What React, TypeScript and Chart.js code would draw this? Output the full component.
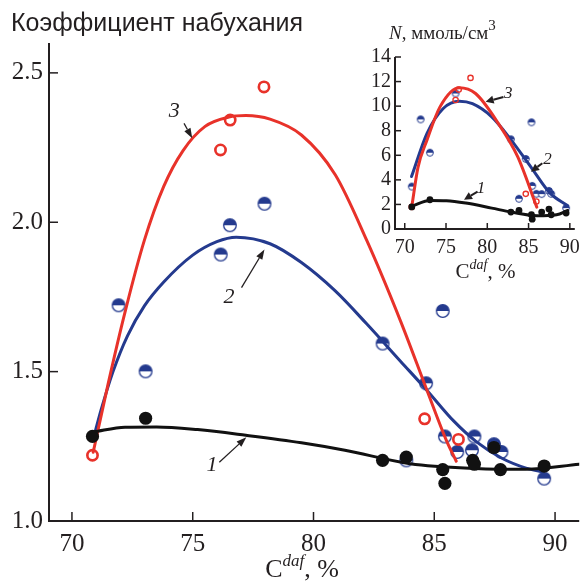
import React, { useEffect, useRef } from 'react';
import { Chart, registerables } from 'chart.js';

Chart.register(...registerables);

// ---------- Main chart data ----------
const mainXTicks = [70, 75, 80, 85, 90];
const mainYTicks = [1.0, 1.5, 2.0, 2.5];

// Series 1 (black filled)
const s1X = [70.85, 73.05, 82.86, 83.84, 85.35, 85.44, 86.59, 86.66, 87.47, 87.74, 89.55];
const s1Y = [1.283, 1.344, 1.203, 1.214, 1.172, 1.126, 1.203, 1.19, 1.246, 1.172, 1.184];
// Series 2 (half-filled blue)
const s2X = [71.93, 73.05, 76.16, 76.54, 77.97, 82.86, 83.84, 84.66, 85.35, 85.44, 85.95, 86.56, 86.66, 87.47, 87.78, 89.55];
const s2Y = [1.722, 1.501, 1.892, 1.99, 2.062, 1.594, 1.203, 1.461, 1.703, 1.283, 1.231, 1.237, 1.283, 1.257, 1.231, 1.142];
// Series 3 (red open)
const s3X = [70.85, 76.15, 76.55, 77.95, 84.6, 86.0];
const s3Y = [1.22, 2.242, 2.342, 2.453, 1.342, 1.273];

// Fitted curves
const c1X = [70.9, 72.2, 73.5, 75.2, 77.2, 79.5, 81.3, 84.0, 86.7, 88.8, 91.0];
const c1Y = [1.298, 1.314, 1.315, 1.306, 1.287, 1.262, 1.237, 1.192, 1.176, 1.173, 1.19];
const c2X = [70.9, 71.2, 71.7, 72.3, 73.0, 73.8, 75.0, 76.0, 76.8, 78.2, 79.5, 80.9, 82.2, 83.6, 84.7, 85.8, 86.75, 87.8, 88.8, 89.5];
const c2Y = [1.28, 1.37, 1.5, 1.62, 1.72, 1.8, 1.89, 1.935, 1.95, 1.928, 1.865, 1.77, 1.66, 1.535, 1.437, 1.335, 1.265, 1.21, 1.177, 1.164];
const c3X = [70.88, 71.5, 72.2, 73.0, 73.8, 74.6, 75.5, 76.5, 77.2, 78.2, 79.5, 80.9, 82.2, 83.6, 84.7, 85.5, 85.91];
const c3Y = [1.23, 1.46, 1.7, 1.94, 2.12, 2.24, 2.32, 2.352, 2.357, 2.345, 2.292, 2.159, 1.94, 1.67, 1.437, 1.27, 1.2];

// ---------- Inset data ----------
const inXTicks = [70, 75, 80, 85, 90];
const inYTicks = [0, 2, 4, 6, 8, 10, 12, 14];

const i1X = [70.85, 73.05, 82.86, 83.84, 85.35, 85.44, 86.59, 87.47, 87.74, 89.55];
const i1Y = [1.8, 2.38, 1.38, 1.51, 1.16, 0.8, 1.38, 1.62, 1.16, 1.3];
const i2X = [70.85, 71.93, 73.05, 76.16, 82.86, 83.84, 84.66, 85.35, 85.44, 85.95, 86.59, 87.47, 87.74, 89.55];
const i2Y = [3.45, 8.92, 6.21, 11.03, 7.3, 2.46, 5.7, 8.68, 3.51, 2.86, 2.84, 3.1, 2.86, 1.7];
const i3X = [70.85, 76.16, 76.54, 77.97, 84.66, 85.95];
const i3Y = [1.8, 10.5, 11.35, 12.3, 2.86, 2.24];

const ic1X = [70.82, 73.09, 75.05, 77.4, 80.54, 82.9, 86.03, 88.39, 89.75];
const ic1Y = [1.86, 2.32, 2.3, 2.11, 1.7, 1.38, 1.08, 1.16, 1.51];
const ic2X = [70.82, 72.7, 74.66, 76.62, 78.2, 80.54, 82.9, 85.25, 87.6, 89.75];
const ic2Y = [4.27, 7.79, 9.81, 10.4, 10.2, 9.13, 7.24, 5.08, 2.92, 1.89];
const ic3X = [70.85, 71.6, 72.7, 74.27, 76.6, 78.58, 81.33, 83.68, 86.0];
const ic3Y = [1.8, 5.0, 7.24, 9.94, 11.5, 11.03, 8.6, 5.89, 1.78];

const INK = '#231f20';
const RED = '#e8322a';
const BLUE = '#243a8e';
const BLACK = '#111111';
const SERIF = '"Liberation Serif"';
const SANS = '"Liberation Sans"';

const pts = (xs: number[], ys: number[]) => xs.map((x, i) => ({ x, y: ys[i] }));

function halfMarker(r: number, color: string, lw: number) {
  let size = Math.ceil(2 * r + lw + 2);
  if (size % 2) size += 1;
  const c = document.createElement('canvas');
  c.width = size;
  c.height = size;
  const g = c.getContext('2d')!;
  const cx = size / 2, cy = size / 2;
  g.beginPath(); g.arc(cx, cy, r, 0, Math.PI * 2); g.fillStyle = '#fff'; g.fill();
  g.beginPath(); g.arc(cx, cy, r, Math.PI, 0); g.closePath(); g.fillStyle = color; g.fill();
  g.beginPath(); g.arc(cx, cy, r, 0, Math.PI * 2); g.strokeStyle = color; g.lineWidth = lw; g.stroke();
  return c;
}

type Run = { t: string; font: string; dy?: number };
function drawRuns(ctx: CanvasRenderingContext2D, runs: Run[], x: number, y: number, center: boolean) {
  ctx.save();
  ctx.fillStyle = INK;
  ctx.textBaseline = 'alphabetic';
  ctx.textAlign = 'left';
  let w = 0;
  for (const r of runs) { ctx.font = r.font; w += ctx.measureText(r.t).width; }
  let cx = center ? x - w / 2 : x;
  for (const r of runs) {
    ctx.font = r.font;
    ctx.fillText(r.t, cx, y + (r.dy || 0));
    cx += ctx.measureText(r.t).width;
  }
  ctx.restore();
}

function drawArrow(ctx: CanvasRenderingContext2D, x1: number, y1: number, x2: number, y2: number, lw: number, hl: number, hw: number) {
  const a = Math.atan2(y2 - y1, x2 - x1);
  const bx = x2 - hl * Math.cos(a), by = y2 - hl * Math.sin(a);
  ctx.save();
  ctx.strokeStyle = INK; ctx.fillStyle = INK; ctx.lineWidth = lw;
  ctx.beginPath(); ctx.moveTo(x1, y1); ctx.lineTo(bx, by); ctx.stroke();
  ctx.beginPath(); ctx.moveTo(x2, y2);
  ctx.lineTo(bx + hw * Math.sin(a), by - hw * Math.cos(a));
  ctx.lineTo(bx - hw * Math.sin(a), by + hw * Math.cos(a));
  ctx.closePath(); ctx.fill();
  ctx.restore();
}

type Ann = { t: string; x: number; y: number; x1: number; y1: number; x2: number; y2: number };
const mainAnns: Ann[] = [
  { t: '3', x: 74.24, y: 2.37, x1: 74.64, y1: 2.331, x2: 74.98, y2: 2.281 },
  { t: '2', x: 76.5, y: 1.75, x1: 77.02, y1: 1.781, x2: 77.97, y2: 1.909 },
  { t: '1', x: 75.8, y: 1.187, x1: 76.1, y1: 1.197, x2: 77.22, y2: 1.28 },
];
const insetAnns: Ann[] = [
  { t: '3', x: 82.55, y: 11.03, x1: 81.96, y1: 10.75, x2: 79.8, y2: 10.35 },
  { t: '2', x: 87.3, y: 5.62, x1: 86.67, y1: 5.35, x2: 85.29, y2: 4.67 },
  { t: '1', x: 79.25, y: 3.33, x1: 78.82, y1: 3.05, x2: 77.18, y2: 2.38 },
];

function axesPlugin(id: string, xt: number[], yt: number[], tickLen: number) {
  return {
    id,
    beforeDatasetsDraw(chart: any) {
      const { ctx, chartArea: a, scales: { x, y } } = chart;
      ctx.save();
      ctx.strokeStyle = INK;
      ctx.lineWidth = 2;
      ctx.beginPath();
      ctx.moveTo(a.left, a.top); ctx.lineTo(a.left, a.bottom); ctx.lineTo(a.right, a.bottom);
      ctx.stroke();
      ctx.lineWidth = 1.5;
      for (const v of xt) {
        const px = x.getPixelForValue(v);
        ctx.beginPath(); ctx.moveTo(px, a.bottom); ctx.lineTo(px, a.bottom - tickLen); ctx.stroke();
      }
      for (const v of yt) {
        const py = y.getPixelForValue(v);
        ctx.beginPath(); ctx.moveTo(a.left, py); ctx.lineTo(a.left + tickLen, py); ctx.stroke();
      }
      ctx.restore();
    },
  };
}

function annPlugin(id: string, anns: Ann[], font: string, lw: number, hl: number, hw: number, extra: (chart: any) => void) {
  return {
    id,
    afterDraw(chart: any) {
      const { ctx, scales: { x, y } } = chart;
      for (const an of anns) {
        drawArrow(ctx, x.getPixelForValue(an.x1), y.getPixelForValue(an.y1), x.getPixelForValue(an.x2), y.getPixelForValue(an.y2), lw, hl, hw);
        ctx.save();
        ctx.font = font; ctx.fillStyle = INK; ctx.textAlign = 'center'; ctx.textBaseline = 'middle';
        ctx.fillText(an.t, x.getPixelForValue(an.x), y.getPixelForValue(an.y));
        ctx.restore();
      }
      extra(chart);
    },
  };
}

function scatterSets(r: number, lw: number, hm: HTMLCanvasElement,
  p1: any[], p2: any[], p3: any[], l1: any[], l2: any[], l3: any[]) {
  const line = (data: any[], color: string) => ({
    data, showLine: true, borderColor: color, borderWidth: lw, pointRadius: 0,
    cubicInterpolationMode: 'monotone', fill: false, borderCapStyle: 'round', borderJoinStyle: 'round',
  });
  return [
    { data: p1, showLine: false, pointRadius: r, pointBackgroundColor: BLACK, pointBorderColor: BLACK, pointBorderWidth: 0 },
    line(l1, BLACK),
    { data: p3, showLine: false, pointRadius: r * 0.78, pointBackgroundColor: 'rgba(0,0,0,0)', pointBorderColor: RED, pointBorderWidth: r * 0.4 },
    line(l3, RED),
    line(l2, BLUE),
    { data: p2, showLine: false, pointRadius: r, pointStyle: hm },
  ];
}

function axisOpts(min: number, max: number, ticks: number[], size: number, pad: number, fit: (s: any) => void, fmt?: (v: number) => string) {
  return {
    type: 'linear',
    min, max,
    grid: { display: false, drawTicks: false },
    border: { display: false },
    afterBuildTicks: (s: any) => { s.ticks = ticks.map((v) => ({ value: v })); },
    afterFit: fit,
    ticks: {
      font: { family: SERIF, size },
      color: INK,
      padding: pad,
      maxRotation: 0,
      autoSkip: false,
      callback: (v: any) => (fmt ? fmt(Number(v)) : String(v)),
    },
  };
}

export default function App() {
  const mainRef = useRef<HTMLCanvasElement>(null);
  const insetRef = useRef<HTMLCanvasElement>(null);

  useEffect(() => {
    const hmMain = halfMarker(6.3, BLUE, 1.3);
    const hmInset = halfMarker(3.4, BLUE, 1);

    const main = new Chart(mainRef.current!, {
      type: 'scatter',
      data: {
        datasets: scatterSets(6.6, 3, hmMain,
          pts(s1X, s1Y), pts(s2X, s2Y), pts(s3X, s3Y),
          pts(c1X, c1Y), pts(c2X, c2Y), pts(c3X, c3Y)) as any,
      },
      options: {
        responsive: false,
        animation: false,
        devicePixelRatio: 1,
        layout: { padding: { top: 43, right: 0, left: 0, bottom: 0 } },
        plugins: { legend: { display: false }, tooltip: { enabled: false } },
        scales: {
          x: axisOpts(69.05, 91, mainXTicks, 25, 8, (s: any) => { s.height = 66; }) as any,
          y: axisOpts(1.0, 2.6, mainYTicks, 25, 6, (s: any) => { s.width = 49; }, (v) => v.toFixed(1)) as any,
        },
      },
      plugins: [
        axesPlugin('mainAxes', mainXTicks, mainYTicks, 9),
        annPlugin('mainAnn', mainAnns, `italic 22px ${SERIF}`, 1.3, 10, 3.5, (chart: any) => {
          const ctx = chart.ctx as CanvasRenderingContext2D;
          drawRuns(ctx, [{ t: 'Коэффициент набухания', font: `25px ${SANS}` }], 11, 31, false);
          drawRuns(ctx, [
            { t: 'C', font: `26px ${SERIF}` },
            { t: 'daf', font: `italic 17px ${SERIF}`, dy: -11 },
            { t: ', %', font: `26px ${SERIF}` },
          ], 302, 577, true);
        }),
      ],
    });

    const inset = new Chart(insetRef.current!, {
      type: 'scatter',
      data: {
        datasets: scatterSets(3.4, 3, hmInset,
          pts(i1X, i1Y), pts(i2X, i2Y), pts(i3X, i3Y),
          pts(ic1X, ic1Y), pts(ic2X, ic2Y), pts(ic3X, ic3Y)) as any,
      },
      options: {
        responsive: false,
        animation: false,
        devicePixelRatio: 1,
        layout: { padding: { top: 57, right: 6, left: 0, bottom: 0 } },
        plugins: { legend: { display: false }, tooltip: { enabled: false } },
        scales: {
          x: axisOpts(68.82, 90.6, inXTicks, 20, 7, (s: any) => { s.height = 71; }) as any,
          y: axisOpts(0, 14, inYTicks, 20, 4, (s: any) => { s.width = 35; }) as any,
        },
      },
      plugins: [
        axesPlugin('inAxes', inXTicks, inYTicks, 6),
        annPlugin('inAnn', insetAnns, `italic 17px ${SERIF}`, 2, 8, 4, (chart: any) => {
          const ctx = chart.ctx as CanvasRenderingContext2D;
          drawRuns(ctx, [
            { t: 'N', font: `italic 19px ${SERIF}` },
            { t: ', ммоль/см', font: `19px ${SERIF}` },
            { t: '3', font: `15px ${SERIF}`, dy: -9 },
          ], 29, 39, false);
          drawRuns(ctx, [
            { t: 'C', font: `21px ${SERIF}` },
            { t: 'daf', font: `italic 14px ${SERIF}`, dy: -9 },
            { t: ', %', font: `21px ${SERIF}` },
          ], 125.5, 278, true);
        }),
      ],
    });

    return () => { main.destroy(); inset.destroy(); };
  }, []);

  return (
    <div style={{ position: 'fixed', left: 0, top: 0, width: 587, height: 587, background: '#fff' }}>
      <canvas ref={mainRef} width={587} height={587}
        style={{ position: 'absolute', left: 0, top: 0, width: 587, height: 587 }} />
      <canvas ref={insetRef} width={227} height={300}
        style={{ position: 'absolute', left: 360, top: 0, width: 227, height: 300 }} />
    </div>
  );
}
